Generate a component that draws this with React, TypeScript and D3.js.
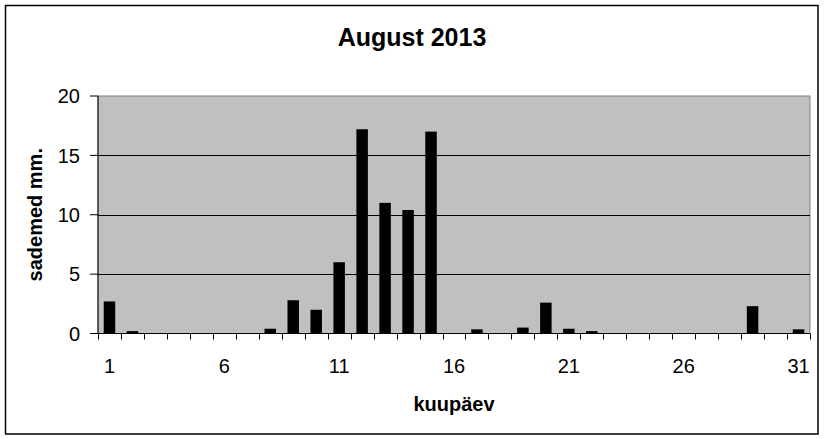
import * as d3 from "d3";

const days = d3.range(1, 32);
const rain = [
  2.7, 0.2, 0, 0, 0, 0, 0, 0.4, 2.8, 2.0, 6.0, 17.2, 11.0, 10.4, 17.0, 0, 0.35,
  0, 0.5, 2.6, 0.4, 0.2, 0, 0, 0, 0, 0, 0, 2.3, 0, 0.35,
];
const xTickLabels = [1, 6, 11, 16, 21, 26, 31];
const yTicks = [0, 5, 10, 15, 20];

export default function App() {
  const width = 825;
  const height = 439;
  const plot = { left: 98, right: 810, top: 96, bottom: 333.5 };
  const font = "'Liberation Sans', Arial, sans-serif";

  const x = d3
    .scaleBand<number>()
    .domain(days)
    .range([plot.left, plot.right])
    .paddingInner(0.5)
    .paddingOuter(0.25);
  const y = d3.scaleLinear().domain([0, 20]).range([plot.bottom, plot.top]);

  const step = x.step();
  const gap = (step - x.bandwidth()) / 2;
  // tick marks between the days
  const bounds = days.map((d) => (x(d) as number) - gap).concat([plot.right]);

  return (
    <div style={{ position: "absolute", left: 0, top: 0 }}>
      <svg width={width} height={height} style={{ display: "block" }}>
        <rect x={0} y={0} width={width} height={height} fill="#fff" />
        <rect
          x={5.5}
          y={5.5}
          width={812.5}
          height={428.5}
          fill="none"
          stroke="#000"
          strokeWidth={1.5}
        />
        <text
          x={412}
          y={46}
          textAnchor="middle"
          fontFamily={font}
          fontWeight="bold"
          fontSize={25}
        >
          August 2013
        </text>

        <rect
          x={plot.left}
          y={plot.top}
          width={plot.right - plot.left}
          height={plot.bottom - plot.top}
          fill="#c0c0c0"
          stroke="#808080"
          strokeWidth={1}
        />
        {yTicks
          .filter((t) => t > 0 && t < 20)
          .map((t) => (
            <line
              key={"g" + t}
              x1={plot.left}
              x2={plot.right}
              y1={Math.round(y(t)) + 0.5}
              y2={Math.round(y(t)) + 0.5}
              stroke="#000"
            />
          ))}

        {days.map((d, i) => (
          <rect
            key={"b" + d}
            x={x(d)}
            y={y(rain[i])}
            width={x.bandwidth()}
            height={y(0) - y(rain[i])}
            fill="#000"
          />
        ))}

        <line x1={plot.left} x2={plot.left} y1={plot.top} y2={plot.bottom} stroke="#000" />
        <line x1={plot.left} x2={plot.right} y1={plot.bottom} y2={plot.bottom} stroke="#000" />
        {yTicks.map((t) => (
          <g key={"y" + t}>
            <line x1={plot.left - 8} x2={plot.left} y1={y(t)} y2={y(t)} stroke="#000" />
            <text
              x={80}
              y={y(t)}
              dy="0.36em"
              textAnchor="end"
              fontFamily={font}
              fontSize={20}
            >
              {t}
            </text>
          </g>
        ))}
        {bounds.map((b, i) => (
          <line
            key={"t" + i}
            x1={Math.round(b) + 0.5}
            x2={Math.round(b) + 0.5}
            y1={plot.bottom}
            y2={plot.bottom + 6}
            stroke="#000"
          />
        ))}
        {xTickLabels.map((d) => (
          <text
            key={"x" + d}
            x={(x(d) as number) + x.bandwidth() / 2}
            y={373}
            textAnchor="middle"
            fontFamily={font}
            fontSize={20}
          >
            {d}
          </text>
        ))}

        <text
          x={(plot.left + plot.right) / 2}
          y={411}
          textAnchor="middle"
          fontFamily={font}
          fontWeight="bold"
          fontSize={20}
        >
          kuupäev
        </text>
        <text
          transform={`translate(42,${(plot.top + plot.bottom) / 2}) rotate(-90)`}
          textAnchor="middle"
          fontFamily={font}
          fontWeight="bold"
          fontSize={20}
        >
          sademed mm.
        </text>
      </svg>
    </div>
  );
}
